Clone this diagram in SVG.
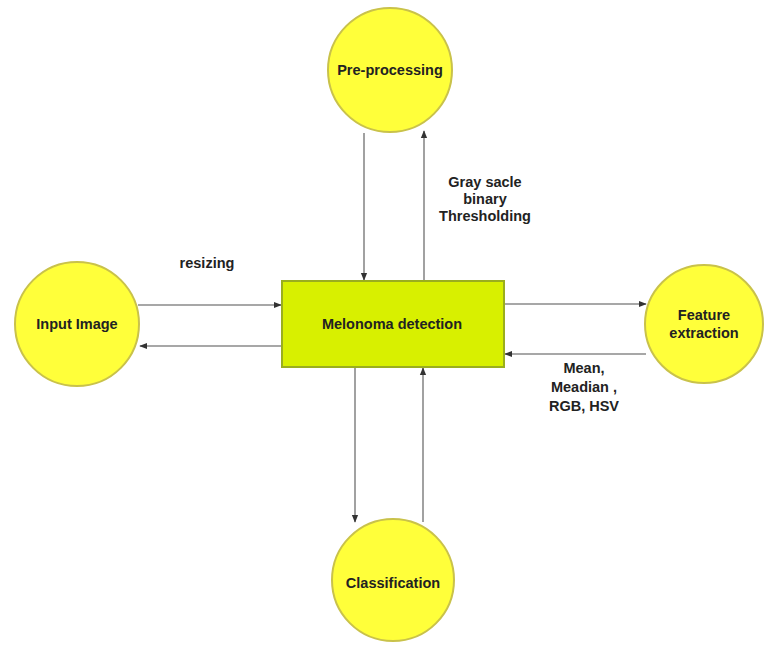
<svg xmlns="http://www.w3.org/2000/svg" width="764" height="645" viewBox="0 0 764 645">
<defs>
<style>
.node{fill:#ffff3a;stroke:#c9c24a;stroke-width:2}
.box{fill:#d8f000;stroke:#9aae1e;stroke-width:2}
.t{font-family:"Liberation Sans",Arial,sans-serif;font-weight:bold;font-size:14.5px;fill:#222;text-anchor:middle}
.c{stroke:#8a8a8a;stroke-width:1.6;fill:none;marker-end:url(#ah)}
</style>
<marker id="ah" viewBox="0 0 10 10" refX="9" refY="5" markerWidth="5" markerHeight="5" orient="auto">
<path d="M0,1 L10,5 L0,9 z" fill="#333"/>
</marker>
</defs>
<rect width="764" height="645" fill="#ffffff"/>
<g id="connectors">
<line class="c" x1="138" y1="305" x2="281" y2="305"/>
<line class="c" x1="281" y1="346" x2="140" y2="346"/>
<line class="c" x1="364" y1="133" x2="364" y2="280"/>
<line class="c" x1="424" y1="280" x2="424" y2="131"/>
<line class="c" x1="504" y1="304" x2="646" y2="304"/>
<line class="c" x1="646" y1="354" x2="505" y2="354"/>
<line class="c" x1="355" y1="367" x2="355" y2="522"/>
<line class="c" x1="423" y1="522" x2="423" y2="368"/>
</g>
<g id="lbl-resizing"><text class="t" x="207" y="268">resizing</text></g>
<g id="lbl-gray"><text class="t" x="485" y="187">Gray sacle</text><text class="t" x="485" y="204">binary</text><text class="t" x="485" y="221">Thresholding</text></g>
<g id="lbl-mean"><text class="t" x="584" y="373">Mean,</text><text class="t" x="584" y="392">Meadian ,</text><text class="t" x="584" y="411">RGB, HSV</text></g>
<g id="pre"><circle class="node" cx="390" cy="70" r="62"/><text class="t" x="390" y="75">Pre-processing</text></g>
<g id="input"><circle class="node" cx="77" cy="324" r="62"/><text class="t" x="77" y="329">Input Image</text></g>
<g id="feature"><circle class="node" cx="704" cy="324" r="59"/><text class="t" x="704" y="320">Feature</text><text class="t" x="704" y="338">extraction</text></g>
<g id="class"><circle class="node" cx="393" cy="580" r="61"/><text class="t" x="393" y="588">Classification</text></g>
<g id="melanoma"><rect class="box" x="282" y="281" width="222" height="86"/><text class="t" x="392" y="329">Melonoma detection</text></g>
</svg>
